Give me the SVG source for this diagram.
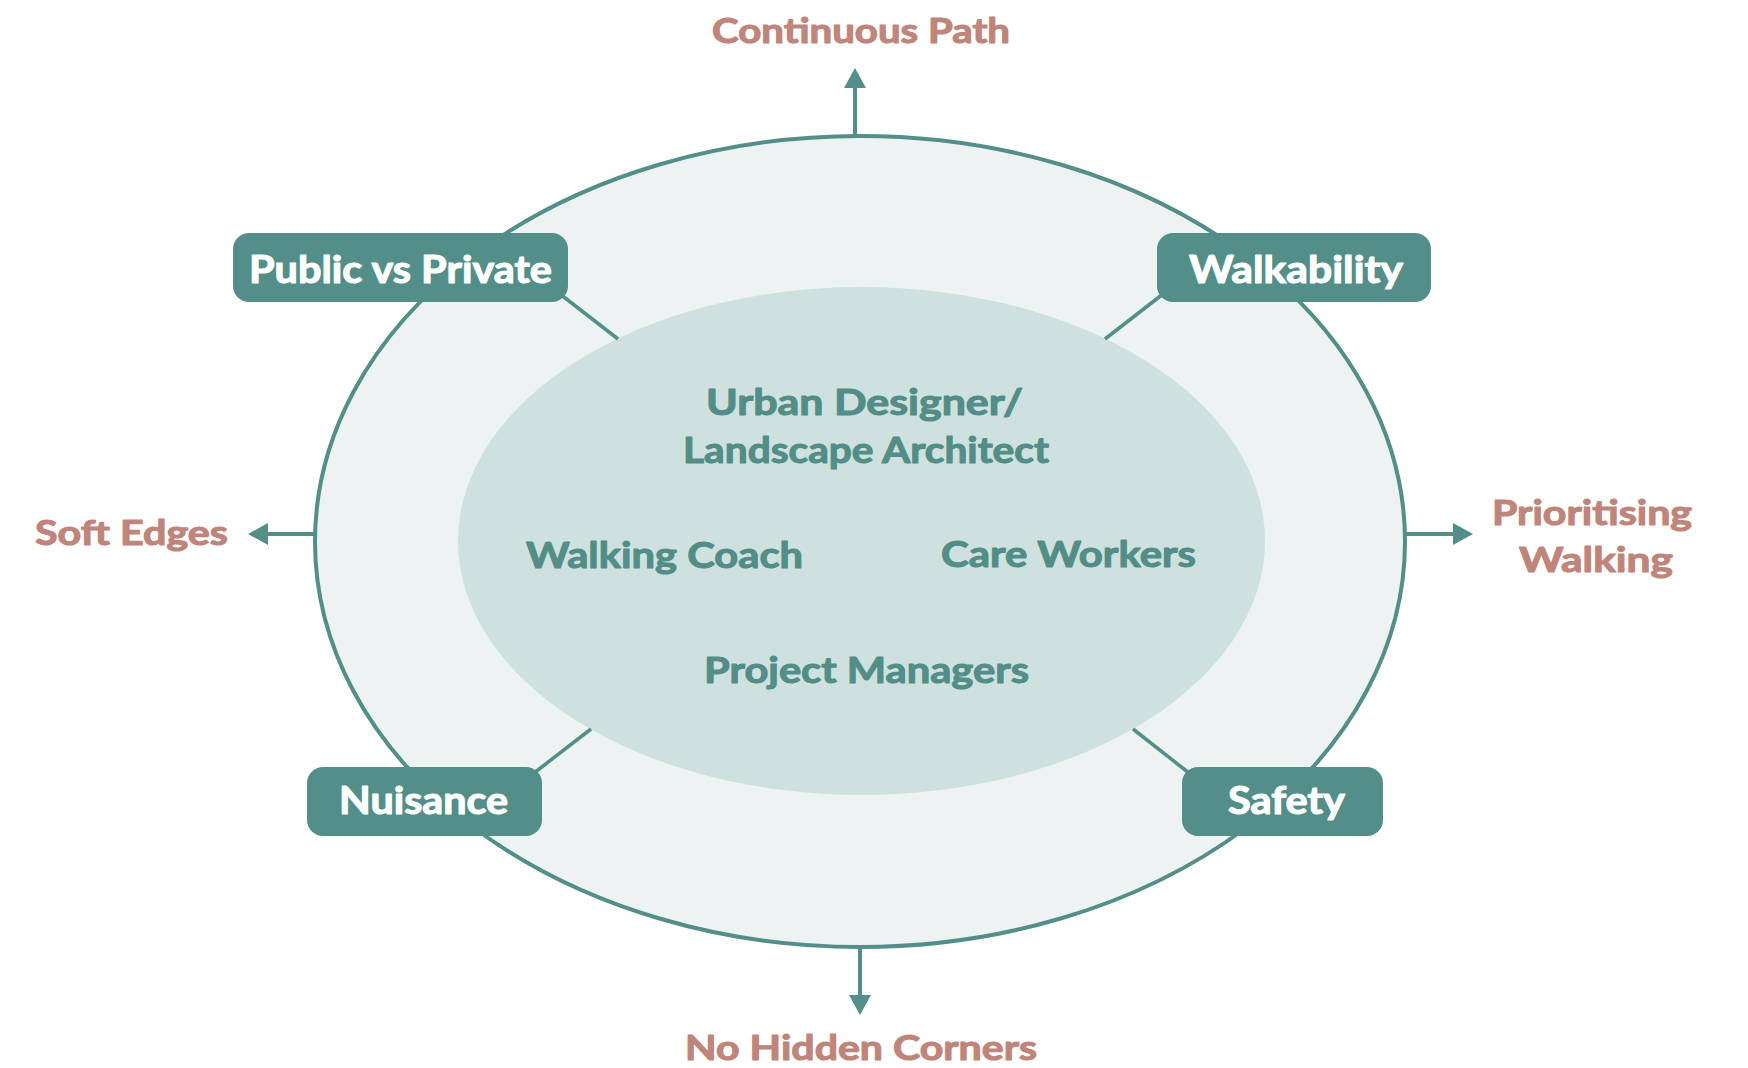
<svg xmlns="http://www.w3.org/2000/svg" width="1748" height="1068" viewBox="0 0 1748 1068">
  <style>
    .lbl { font-family: "Lato", "Liberation Sans", sans-serif; font-weight: 700; text-anchor: middle; stroke-width: 1.1; stroke-linejoin: round; }
    .out { fill: #C0857A; stroke: #C0857A; font-size: 35px; }
    .box { fill: #538F88; }
    .boxt { fill: #FFFFFF; stroke: #FFFFFF; font-size: 38px; }
    .inn { fill: #528E87; stroke: #528E87; font-size: 37px; }
    .conn { stroke: #538F88; stroke-width: 3.5; fill: none; }
    .arr { stroke: #538F88; stroke-width: 4; fill: none; }
  </style>
  <defs>
    <marker id="ah" viewBox="0 0 20 22" refX="0" refY="11" markerWidth="20" markerHeight="22" markerUnits="userSpaceOnUse" orient="auto">
      <path d="M0,0 L20,11 L0,22 Z" fill="#538F88"/>
    </marker>
  </defs>
  <rect width="1748" height="1068" fill="#FFFFFF"/>

  <g id="outer-ring">
    <ellipse cx="860" cy="541.5" rx="545" ry="405.5" fill="#ECF3F2" stroke="#538F88" stroke-width="4"/>
  </g>
  <g id="inner-core">
    <ellipse cx="861.5" cy="541" rx="403.5" ry="254" fill="#CFE1DF"/>
  </g>

  <g id="connectors">
    <line class="conn" x1="618" y1="339" x2="560" y2="294"/>
    <line class="conn" x1="1105" y1="339" x2="1163" y2="294"/>
    <line class="conn" x1="591" y1="729" x2="534" y2="773"/>
    <line class="conn" x1="1133" y1="729" x2="1189" y2="773"/>
    <line class="arr" x1="855" y1="136" x2="855" y2="88" marker-end="url(#ah)"/>
    <line class="arr" x1="860" y1="947" x2="860" y2="995" marker-end="url(#ah)"/>
    <line class="arr" x1="316" y1="534" x2="268" y2="534" marker-end="url(#ah)"/>
    <line class="arr" x1="1404" y1="534" x2="1453" y2="534" marker-end="url(#ah)"/>
  </g>

  <g id="node-public-private">
    <rect class="box" x="233" y="233" width="335" height="69" rx="16"/>
    <text class="lbl boxt" x="400.5" y="283" textLength="303" lengthAdjust="spacingAndGlyphs">Public vs Private</text>
  </g>
  <g id="node-walkability">
    <rect class="box" x="1157" y="233" width="274" height="69" rx="16"/>
    <text class="lbl boxt" x="1296" y="283" textLength="214" lengthAdjust="spacingAndGlyphs">Walkability</text>
  </g>
  <g id="node-nuisance">
    <rect class="box" x="307" y="767" width="235" height="69" rx="16"/>
    <text class="lbl boxt" x="423.5" y="814" textLength="169" lengthAdjust="spacingAndGlyphs">Nuisance</text>
  </g>
  <g id="node-safety">
    <rect class="box" x="1182" y="767" width="201" height="69" rx="16"/>
    <text class="lbl boxt" x="1286.5" y="814" textLength="117" lengthAdjust="spacingAndGlyphs">Safety</text>
  </g>

  <g id="node-continuous-path">
    <text class="lbl out" x="861" y="43" font-size="32" textLength="298" lengthAdjust="spacingAndGlyphs">Continuous Path</text>
  </g>
  <g id="node-soft-edges">
    <text class="lbl out" x="131.5" y="545" textLength="193" lengthAdjust="spacingAndGlyphs">Soft Edges</text>
  </g>
  <g id="node-prioritising-walking">
    <text class="lbl out" x="1592" y="525" textLength="200" lengthAdjust="spacingAndGlyphs">Prioritising</text>
    <text class="lbl out" x="1596" y="572" textLength="154" lengthAdjust="spacingAndGlyphs">Walking</text>
  </g>
  <g id="node-no-hidden-corners">
    <text class="lbl out" x="861" y="1060" textLength="352" lengthAdjust="spacingAndGlyphs">No Hidden Corners</text>
  </g>

  <g id="node-urban-designer">
    <text class="lbl inn" x="864.5" y="415" textLength="317" lengthAdjust="spacingAndGlyphs">Urban Designer/</text>
    <text class="lbl inn" x="866" y="463" textLength="366" lengthAdjust="spacingAndGlyphs">Landscape Architect</text>
  </g>
  <g id="node-walking-coach">
    <text class="lbl inn" x="664.5" y="568" textLength="277" lengthAdjust="spacingAndGlyphs">Walking Coach</text>
  </g>
  <g id="node-care-workers">
    <text class="lbl inn" x="1068.5" y="567" textLength="255" lengthAdjust="spacingAndGlyphs">Care Workers</text>
  </g>
  <g id="node-project-managers">
    <text class="lbl inn" x="866.5" y="683" textLength="325" lengthAdjust="spacingAndGlyphs">Project Managers</text>
  </g>
</svg>
